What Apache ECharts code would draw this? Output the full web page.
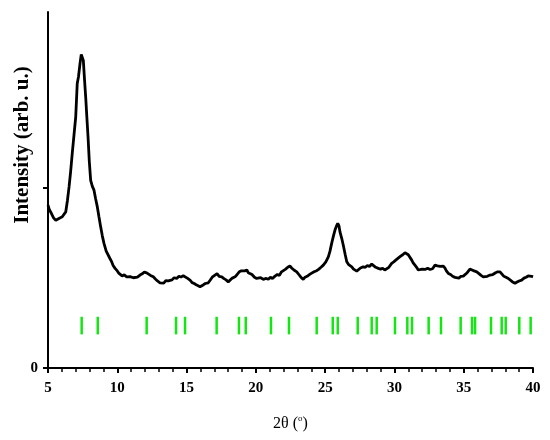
<!DOCTYPE html>
<html>
<head>
<meta charset="utf-8">
<script src="https://cdn.jsdelivr.net/npm/echarts@6/dist/echarts.min.js"></script>
<style>html,body{margin:0;padding:0;background:#fff;}#c{width:550px;height:440px;}</style>
</head>
<body>
<div id="c"></div>
<script>
const twoTheta = [5.00,5.10,5.19,5.30,5.40,5.48,5.56,5.67,5.79,5.90,6.03,6.15,6.28,6.40,6.52,6.63,6.75,6.88,7.00,7.11,7.20,7.31,7.40,7.47,7.55,7.63,7.72,7.80,7.89,7.98,8.08,8.20,8.32,8.44,8.56,8.68,8.80,8.92,9.04,9.20,9.30,9.47,9.60,9.70,9.84,10.00,10.10,10.20,10.35,10.50,10.68,10.80,10.92,11.04,11.16,11.30,11.45,11.64,11.80,11.95,12.12,12.25,12.40,12.60,12.75,12.90,13.08,13.20,13.35,13.50,13.68,13.80,13.95,14.10,14.29,14.45,14.60,14.76,14.90,15.05,15.25,15.40,15.55,15.73,15.85,15.97,16.09,16.20,16.35,16.57,16.70,16.85,17.05,17.20,17.35,17.54,17.70,17.85,18.01,18.15,18.30,18.50,18.65,18.80,18.95,19.09,19.20,19.35,19.45,19.58,19.72,19.90,20.06,20.20,20.35,20.54,20.70,20.90,21.05,21.20,21.38,21.55,21.70,21.85,21.98,22.15,22.30,22.46,22.60,22.75,22.95,23.10,23.25,23.42,23.55,23.70,23.91,24.05,24.20,24.39,24.55,24.70,24.87,25.05,25.23,25.35,25.47,25.60,25.71,25.82,25.91,26.00,26.07,26.20,26.31,26.45,26.56,26.70,26.80,26.92,27.05,27.15,27.28,27.40,27.55,27.75,27.90,28.05,28.20,28.36,28.50,28.65,28.84,29.00,29.15,29.30,29.44,29.60,29.80,29.95,30.16,30.30,30.45,30.60,30.76,30.90,31.00,31.12,31.25,31.35,31.48,31.60,31.72,31.85,32.00,32.10,32.21,32.40,32.57,32.75,32.93,33.10,33.30,33.53,33.65,33.75,33.89,34.05,34.20,34.37,34.50,34.65,34.80,34.97,35.10,35.25,35.45,35.60,35.75,35.94,36.10,36.25,36.41,36.55,36.70,36.90,37.10,37.30,37.45,37.62,37.75,37.90,38.05,38.22,38.35,38.50,38.70,38.85,39.00,39.18,39.35,39.50,39.65,39.78,39.90,40.00];
const intensity = [906,880,868,860,835,845,822,830,832,826,841,852,868,930,1007,1090,1194,1300,1396,1582,1620,1693,1744,1735,1711,1610,1507,1400,1285,1150,1044,1010,989,940,896,840,785,735,693,650,640,609,590,570,554,540,528,526,512,518,507,502,508,498,502,510,505,517,524,533,529,522,515,507,495,484,474,480,472,486,485,492,490,502,498,510,506,513,505,500,489,475,470,461,466,452,456,462,470,474,488,505,517,525,510,507,497,490,479,488,500,507,520,535,540,548,540,545,530,526,520,505,498,488,502,493,498,494,505,498,511,520,515,535,544,550,560,567,555,545,535,520,505,493,505,510,522,528,535,541,550,560,572,590,618,650,693,735,767,790,804,790,757,720,683,630,591,575,568,563,550,545,539,550,556,563,560,570,565,578,570,560,554,550,555,545,544,560,582,590,604,615,622,630,641,636,630,622,600,585,572,560,545,541,550,545,548,555,548,552,572,568,565,567,555,540,526,520,510,504,508,500,510,511,515,530,550,545,540,535,525,515,507,512,510,517,520,530,535,535,525,510,505,498,488,480,471,478,484,489,500,505,512,517,510,507];
const refPositions = [7.43,8.59,12.12,14.24,14.89,17.17,18.78,19.27,21.09,22.39,24.39,25.55,25.91,27.35,28.36,28.72,30.04,30.93,31.27,32.47,33.36,34.78,35.60,35.82,36.97,37.74,38.03,39.01,39.83];
const refTickRange = [187, 285];
const xTicks = [5,10,15,20,25,30,35,40];

const chart = echarts.init(document.getElementById('c'), null, {renderer:'canvas'});
const serif = '"Liberation Serif","Times New Roman",serif';
chart.setOption({
  animation:false,
  backgroundColor:'#fff',
  grid:{left:48,right:17,top:12,bottom:72,containLabel:false},
  xAxis:{
    type:'value',min:5,max:40,interval:5,
    axisLine:{show:true,onZero:false,lineStyle:{color:'#000',width:2}},
    axisTick:{show:true,length:5,lineStyle:{color:'#000',width:2}},
    minorTick:{show:true,splitNumber:5,length:4,lineStyle:{color:'#000',width:1.5}},
    splitLine:{show:false},
    axisLabel:{margin:13,color:'#000',fontFamily:serif,fontWeight:'bold',fontSize:15,
      formatter:v=>xTicks.indexOf(v)>=0?String(v):''},
    name:'2θ ({s|o})',nameLocation:'middle',nameGap:46,
    nameTextStyle:{color:'#000',fontFamily:serif,fontSize:16,
      rich:{s:{fontSize:9,fontFamily:serif,color:'#000',verticalAlign:'top',padding:[0,0,10,0]}}}
  },
  yAxis:{
    type:'value',min:0,max:1980,interval:1000,
    axisLine:{show:true,onZero:false,lineStyle:{color:'#000',width:2}},
    axisTick:{show:true,length:5,customValues:[0,1000],lineStyle:{color:'#000',width:2}},
    splitLine:{show:false},
    axisLabel:{margin:10,color:'#000',fontFamily:serif,fontWeight:'bold',fontSize:15,
      customValues:[0],formatter:v=>v===0?'0':''}
  },
  graphic:[{
    type:'text',x:23,y:145,rotation:Math.PI/2,
    style:{text:'Intensity (arb. u.)',fill:'#000',font:'bold 21px '+serif,align:'center',verticalAlign:'middle'}
  }],
  series:[
    {type:'line',data:twoTheta.map((x,i)=>[x,intensity[i]]),showSymbol:false,symbol:'none',
      lineStyle:{color:'#000',width:2.8},z:3},
    {type:'custom',data:refPositions.map(x=>[x]),z:2,
      renderItem:function(params,api){
        const x=api.value(0);
        const p1=api.coord([x,refTickRange[0]]);
        const p2=api.coord([x,refTickRange[1]]);
        return {type:'line',shape:{x1:p1[0],y1:p1[1],x2:p2[0],y2:p2[1]},
          style:{stroke:'#14e614',lineWidth:2.5}};
      }}
  ]
});
</script>
</body>
</html>
